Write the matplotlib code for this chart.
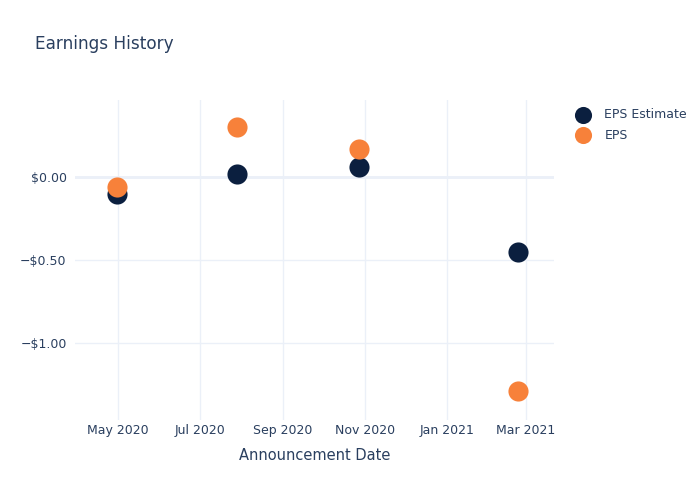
import matplotlib.pyplot as plt
import matplotlib.dates as mdates
import matplotlib.ticker as mticker
import pandas as pd

dates = pd.to_datetime(['2020-04-30', '2020-07-29', '2020-10-28', '2021-02-23'])
eps_estimate = [-0.10, 0.02, 0.06, -0.45]
eps_actual = [-0.06, 0.30, 0.17, -1.29]

text_color = '#2a3f5f'
grid_color = '#EBF0F8'
navy = '#0B1F3F'
orange = '#F7813A'

plt.rcParams['font.family'] = ['DejaVu Sans']

fig = plt.figure(figsize=(7, 5), dpi=100)
ax = fig.add_axes([75 / 700, 80 / 500, 479 / 700, 320 / 500])

ax.scatter(dates, eps_estimate, s=210, color=navy, zorder=3, label='EPS Estimate', linewidths=0)
ax.scatter(dates, eps_actual, s=210, color=orange, zorder=4, label='EPS', linewidths=0)

ax.set_xlim(pd.Timestamp('2020-03-30'), pd.Timestamp('2021-03-22'))
ax.set_ylim(-1.464, 0.464)

ax.xaxis.set_major_locator(mdates.MonthLocator(bymonth=[1, 3, 5, 7, 9, 11]))
ax.xaxis.set_major_formatter(mdates.DateFormatter('%b %Y'))
ax.yaxis.set_major_locator(mticker.FixedLocator([-1.0, -0.5, 0.0]))
ax.yaxis.set_major_formatter(mticker.FuncFormatter(
    lambda v, p: ('\u2212$%.2f' % abs(v)) if v < 0 else '$%.2f' % v))

ax.grid(True, color=grid_color, linewidth=1, zorder=0)
ax.axhline(0, color=grid_color, linewidth=2, zorder=1)
for s in ax.spines.values():
    s.set_visible(False)
ax.tick_params(axis='x', length=0, colors=text_color, labelsize=9, pad=3)
ax.tick_params(axis='y', length=0, colors=text_color, labelsize=9, pad=6)

ax.set_xlabel('Announcement Date', color=text_color, fontsize=10.5, labelpad=8)
fig.text(35 / 700, 1 - 44 / 500, 'Earnings History', color=text_color, fontsize=12.2, va='center')

leg = ax.legend(loc='upper left', bbox_to_anchor=(1.01, 1.01), frameon=False,
                fontsize=9, labelcolor=text_color, handletextpad=0.75,
                labelspacing=0.6, markerscale=0.85)

fig.savefig('out.png', dpi=100)
